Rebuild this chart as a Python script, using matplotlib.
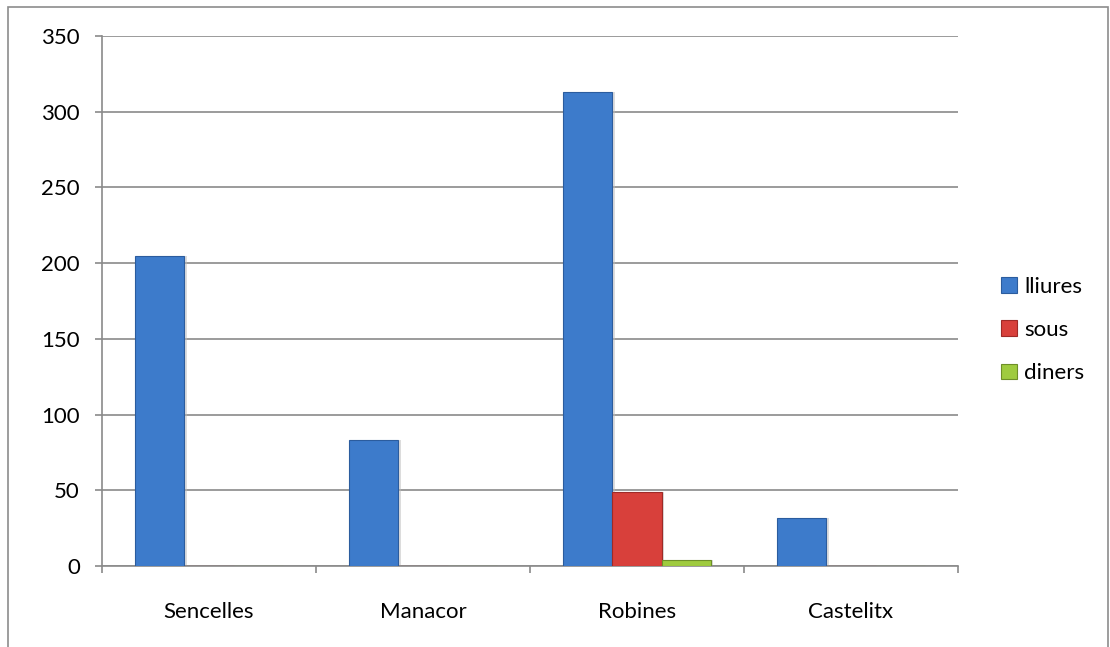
import matplotlib.pyplot as plt
import numpy as np
from matplotlib.patches import Rectangle

plt.rcParams['font.family'] = ['Lato', 'DejaVu Sans']

places = ['Sencelles', 'Manacor', 'Robines', 'Castelitx']
lliures = [205, 83, 313, 32]
sous = [0, 0, 49, 0]
diners = [0, 0, 4, 0]

series = [
    ('lliures', lliures, '#3D7BCB', '#2B5C9E'),
    ('sous', sous, '#D8403B', '#9E2A27'),
    ('diners', diners, '#9FCB3F', '#6E8F28'),
]

W, H = 1110, 647
fig = plt.figure(figsize=(W / 100, H / 100), dpi=100)
# outer chart frame
fig.patches.append(Rectangle((8 / W, -0.01), 1100 / W, 1 - 7 / H + 0.01,
                             transform=fig.transFigure, fill=False,
                             edgecolor='#8c8c8c', linewidth=1.2))

ax = fig.add_axes([102 / W, 1 - 566 / H, (958 - 102) / W, (566 - 36) / H])

x = np.arange(len(places))
width = 0.229
handles = []
for k, (name, vals, col, edge) in enumerate(series):
    pos = x + (k - 1) * width
    b = ax.bar(pos, vals, width, color=col, edgecolor=edge, linewidth=0.8,
               label=name, zorder=3)
    # faint shadow on the right of every bar
    for p, v in zip(pos, vals):
        if v > 0:
            ax.add_patch(Rectangle((p + width / 2, 0), 0.012, v,
                                   color='#bbbbbb', alpha=0.5, zorder=2,
                                   linewidth=0))
    handles.append(b)

ax.set_xlim(-0.5, len(places) - 0.5)
ax.set_ylim(0, 350)
ax.set_yticks(range(0, 351, 50))
ax.set_xticks(x)
ax.set_xticklabels(places)
ax.set_xticks(np.arange(-0.5, len(places)), minor=True)

ax.grid(axis='y', color='#8a8a8a', linewidth=1.2, zorder=0)
for s in ['top', 'right']:
    ax.spines[s].set_visible(False)
for s in ['left', 'bottom']:
    ax.spines[s].set_color('#8a8a8a')
    ax.spines[s].set_linewidth(1.2)

ax.tick_params(axis='x', which='major', length=0, pad=26, labelsize=16)
ax.tick_params(axis='x', which='minor', length=5, color='#8a8a8a', width=1.2)
ax.tick_params(axis='y', length=5, color='#8a8a8a', width=1.2, pad=11,
               labelsize=16)

fig.legend(handles=handles, labels=[s[0] for s in series],
           loc='center left', bbox_to_anchor=(981 / W, 1 - 330 / H),
           frameon=False, fontsize=16, handlelength=0.7, handleheight=0.7,
           handletextpad=0.35, labelspacing=1.05)

fig.savefig('out.png', dpi=100)
